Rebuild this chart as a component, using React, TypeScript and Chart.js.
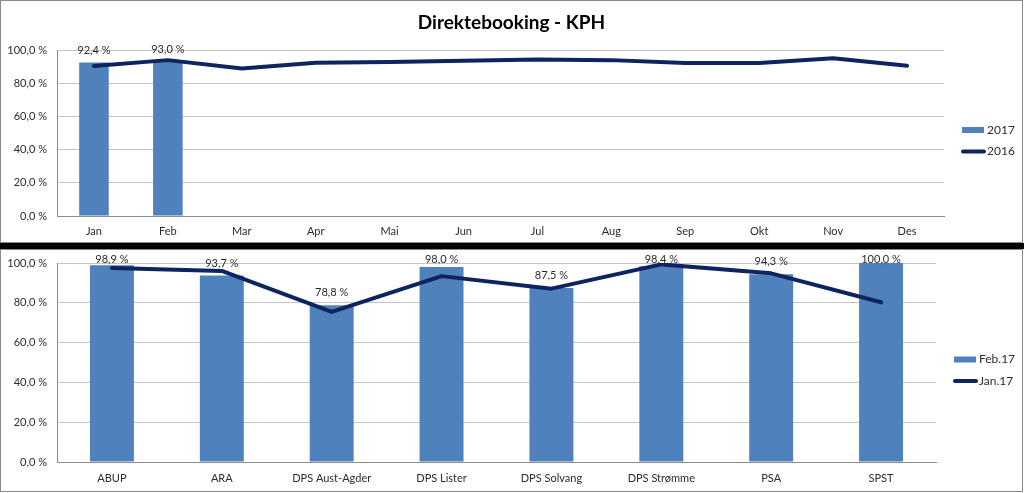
import React, { useEffect, useRef } from 'react';
import { Chart, registerables } from 'chart.js';

Chart.register(...registerables);

// ---------- data ----------
const months = ['Jan', 'Feb', 'Mar', 'Apr', 'Mai', 'Jun', 'Jul', 'Aug', 'Sep', 'Okt', 'Nov', 'Des'];
const values2017: (number | null)[] = [92.4, 93.0, null, null, null, null, null, null, null, null, null, null];
const values2016 = [90.3, 93.9, 88.9, 92.3, 92.8, 93.5, 94.3, 93.9, 92.1, 92.1, 95.0, 90.5];

const units = ['ABUP', 'ARA', 'DPS Aust-Agder', 'DPS Lister', 'DPS Solvang', 'DPS Strømme', 'PSA', 'SPST'];
const valuesFeb17 = [98.9, 93.7, 78.8, 98.0, 87.5, 98.4, 94.3, 100.0];
const valuesJan17 = [97.5, 96.0, 75.4, 93.4, 87.1, 99.3, 94.8, 80.3];

const yTicks = [0, 20, 40, 60, 80, 100];
const titleText = 'Direktebooking - KPH';

// ---------- styles ----------
const FONT = 'Lato, "Open Sans", sans-serif';
const BAR = '#4F81BD';
const LINE = '#0E2460';
const TEXT = '#2b2b2b';
const GRID = '#c4c4c4';
const AXIS = '#8c8c8c';

const fmt = (v: number) => v.toFixed(1).replace('.', ',') + ' %';

const overlayPlugin = {
  id: 'overlay',
  afterDatasetsDraw(chart: any, _args: any, opts: any) {
    const ctx = chart.ctx;
    const area = chart.chartArea;
    ctx.save();
    // data labels on bars
    chart.data.datasets.forEach((ds: any, di: number) => {
      if (ds.type !== 'bar') return;
      const meta = chart.getDatasetMeta(di);
      meta.data.forEach((el: any, i: number) => {
        const v = ds.data[i];
        if (v == null) return;
        const y = Math.max(el.y - 12.5, area.top - 4);
        ctx.font = `11px ${FONT}`;
        ctx.fillStyle = TEXT;
        ctx.textAlign = 'center';
        ctx.textBaseline = 'middle';
        ctx.fillText(fmt(v), el.x, y);
      });
    });
    // title
    if (opts.title) {
      ctx.font = `bold 19px ${FONT}`;
      ctx.fillStyle = '#000';
      ctx.textAlign = 'center';
      ctx.textBaseline = 'middle';
      ctx.fillText(opts.title, chart.width / 2, 22);
    }
    // legend
    const lx = area.right + 18;
    const cy = (area.top + area.bottom) / 2;
    const items = [...chart.data.datasets].sort((a: any) => (a.type === 'bar' ? -1 : 1));
    items.forEach((ds: any, k: number) => {
      const y = cy - 3 + k * 21.5;
      if (ds.type === 'bar') {
        ctx.fillStyle = BAR;
        ctx.fillRect(lx, y - 3, 22, 6);
      } else {
        ctx.strokeStyle = LINE;
        ctx.lineWidth = 4;
        ctx.lineCap = 'round';
        ctx.beginPath();
        ctx.moveTo(lx + 1, y);
        ctx.lineTo(lx + 22, y);
        ctx.stroke();
      }
      ctx.font = `12px ${FONT}`;
      ctx.fillStyle = TEXT;
      ctx.textAlign = 'left';
      ctx.textBaseline = 'middle';
      ctx.fillText(ds.label, lx + 25, y);
    });
    ctx.restore();
  },
};

function makeConfig(labels: string[], barLabel: string, barData: (number | null)[], lineLabel: string, lineData: number[], pad: any, xHeight: number, xPad: number, title?: string): any {
  return {
    type: 'bar',
    data: {
      labels,
      datasets: [
        {
          type: 'line',
          label: lineLabel,
          data: lineData,
          borderColor: LINE,
          backgroundColor: LINE,
          borderWidth: 4,
          pointRadius: 0,
          tension: 0,
          borderCapStyle: 'round',
          borderJoinStyle: 'round',
          order: 0,
        },
        {
          type: 'bar',
          label: barLabel,
          data: barData,
          backgroundColor: BAR,
          barPercentage: 0.4,
          categoryPercentage: 1,
          order: 1,
        },
      ],
    },
    options: {
      animation: false,
      responsive: true,
      maintainAspectRatio: false,
      layout: { padding: pad },
      plugins: {
        legend: { display: false },
        tooltip: { enabled: false },
        title: { display: false },
        overlay: { title },
      },
      scales: {
        x: {
          offset: true,
          grid: { display: false, drawTicks: false },
          border: { display: true, color: AXIS, width: 1 },
          ticks: { color: TEXT, font: { family: FONT, size: 11 }, padding: xPad, maxRotation: 0, autoSkip: false },
          afterFit: (s: any) => {
            s.height = xHeight;
          },
        },
        y: {
          min: 0,
          max: 100,
          afterBuildTicks: (s: any) => {
            s.ticks = yTicks.map((v) => ({ value: v }));
          },
          afterFit: (s: any) => {
            s.width = 56;
          },
          grid: { color: GRID, lineWidth: 1, drawTicks: true, tickLength: 8, tickColor: 'rgba(0,0,0,0)' },
          border: { display: true, color: AXIS, width: 1 },
          ticks: { color: TEXT, font: { family: FONT, size: 11 }, padding: 2, callback: (v: any) => fmt(Number(v)) },
        },
      },
    },
    plugins: [overlayPlugin],
  };
}

function ChartBox({ config }: { config: any }) {
  const ref = useRef<HTMLCanvasElement | null>(null);
  useEffect(() => {
    if (!ref.current) return;
    const chart = new Chart(ref.current, config);
    return () => chart.destroy();
  }, []);
  return (
    <div style={{ position: 'relative', width: 1021, height: 241 }}>
      <canvas ref={ref} />
    </div>
  );
}

export default function App() {
  const topCfg = makeConfig(months, '2017', values2017, '2016', values2016, { top: 49, right: 78, bottom: 0, left: 0 }, 26, 9, titleText);
  const botCfg = makeConfig(units, 'Feb.17', valuesFeb17, 'Jan.17', valuesJan17, { top: 13, right: 86, bottom: 0, left: 0 }, 29, 10);
  return (
    <div style={{ position: 'fixed', left: 0, top: 0, width: 1024, height: 493, background: '#fff' }}>
      <div style={{ position: 'absolute', left: 0, top: 0, width: 1023, height: 243, border: '1px solid #8a8a8a', boxSizing: 'border-box' }}>
        <ChartBox config={topCfg} />
      </div>
      <div style={{ position: 'absolute', left: 0, top: 243, width: 1024, height: 6, background: '#000' }} />
      <div style={{ position: 'absolute', left: 0, top: 249, width: 1023, height: 243, border: '1px solid #8a8a8a', boxSizing: 'border-box' }}>
        <ChartBox config={botCfg} />
      </div>
    </div>
  );
}
